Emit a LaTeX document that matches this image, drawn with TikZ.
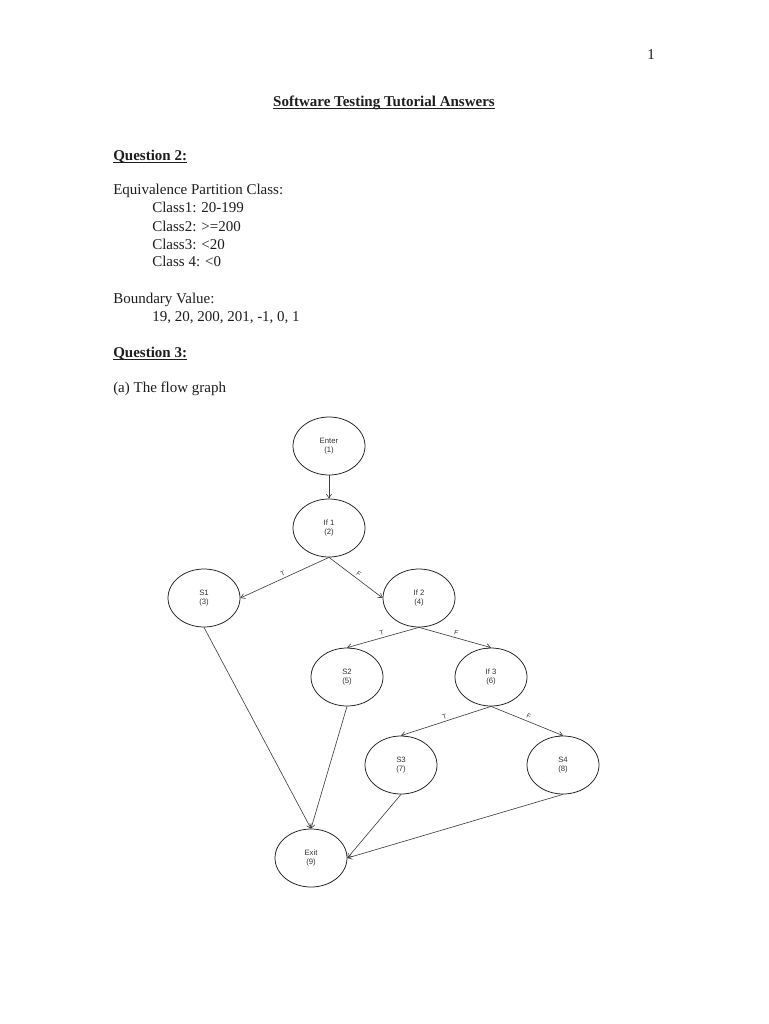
\documentclass[tikz,border=0pt]{standalone}
\usepackage{fontspec}
\setmainfont{Liberation Serif}
\newfontfamily\chartfont{Liberation Sans}
\usepackage{xcolor}
\usepackage{tikz}
\usetikzlibrary{positioning,arrows.meta,shapes.geometric}
\definecolor{ink}{HTML}{1E1E1E}
\definecolor{wire}{HTML}{3E3E3E}
\definecolor{faint}{HTML}{333333}
\newcommand\ulbf[1]{\textbf{\underline{\smash{#1}}}}

\begin{document}
\begin{tikzpicture}[x=0.8pt,y=-0.8pt,on grid,
  txt/.style={anchor=base west,inner sep=0pt,text=ink,font=\fontsize{12}{14}\selectfont},
  nd/.style={ellipse,draw=ink,line width=0.6pt,minimum width=57.6pt,minimum height=46.4pt,inner sep=0pt,align=center,text=faint,font=\chartfont\fontsize{6.2}{7.5}\selectfont},
  lbl/.style={sloped,above,inner sep=1.8pt,text=faint,font=\chartfont\fontsize{5.2}{6}\selectfont},
  arr/.style={-{Straight Barb[length=3.2pt,width=4.2pt]},color=wire,line width=0.5pt}]
\path[use as bounding box,fill=white] (0,0) rectangle (768,1024);
\node[txt,anchor=base] (pgnum) at (651,60) {1};
\node[txt,anchor=base] (title) at (384,107) {\ulbf{Software Testing Tutorial Answers}};
\node[txt] (q2) at (113,161) {\ulbf{Question 2:}};
\node[txt] (epc) at (113,195) {Equivalence Partition Class:};
\node[txt] (cls1) at (152,213) {Class1: 20-199};
\node[txt] (cls2) at (152,231) {Class2: >=200};
\node[txt] (cls3) at (152,249) {Class3: <20};
\node[txt] (cls4) at (152,266) {Class 4: <0};
\node[txt] (bv) at (113,303) {Boundary Value:};
\node[txt] (bvals) at (152,321) {19, 20, 200, 201, -1, 0, 1};
\node[txt] (q3) at (113,357) {\ulbf{Question 3:}};
\node[txt] (fg) at (113,392) {(a) The flow graph};
\node[nd] (enter) at (329,446) {Enter\\(1)};
\node[nd,below=65.6pt of enter] (if1) {If 1\\(2)};
\node[nd,below left=56pt and 100pt of if1] (s1) {S1\\(3)};
\node[nd,below right=56pt and 72pt of if1] (if2) {If 2\\(4)};
\node[nd,below left=63.2pt and 57.6pt of if2] (s2) {S2\\(5)};
\node[nd,below right=63.2pt and 57.6pt of if2] (if3) {If 3\\(6)};
\node[nd,below left=70.4pt and 72pt of if3] (s3) {S3\\(7)};
\node[nd,below right=70.4pt and 57.6pt of if3] (s4) {S4\\(8)};
\node[nd,below left=74.4pt and 72pt of s3] (exit) {Exit\\(9)};
\draw[arr] (enter)--(if1);
\draw[arr] (if1.south)--node[lbl]{T}(s1.east); \draw[arr] (if1.south)--node[lbl]{F}(if2.west);
\draw[arr] (if2.south)--node[lbl]{T}(s2.north); \draw[arr] (if2.south)--node[lbl]{F}(if3.north);
\draw[arr] (if3.south)--node[lbl]{T}(s3.north); \draw[arr] (if3.south)--node[lbl]{F}(s4.north);
\draw[arr] (s1.south)--(exit.north); \draw[arr] (s2.south)--(exit.north);
\draw[arr] (s3.south)--(exit.east); \draw[arr] (s4.south)--(exit.east);
\end{tikzpicture}
\end{document}
